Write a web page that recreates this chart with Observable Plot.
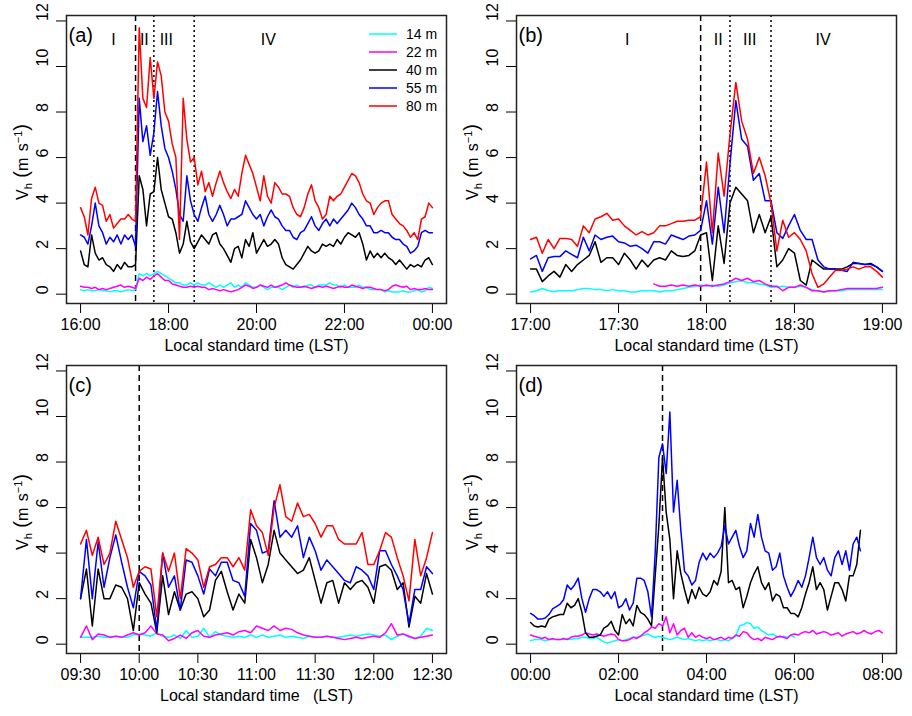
<!DOCTYPE html>
<html>
<head>
<meta charset="utf-8">
<script src="https://cdn.jsdelivr.net/npm/d3@7"></script>
<script src="https://cdn.jsdelivr.net/npm/@observablehq/plot@0.6"></script>
<style>
  body { margin: 0; background: #fff; font-family: "Liberation Sans", Arial, sans-serif; }
  #fig { position: relative; width: 912px; height: 716px; }
  .panel { position: absolute; }
</style>
</head>
<body>
<div id="fig"></div>
<script>
const HEIGHTS = ["14 m", "22 m", "40 m", "55 m", "80 m"];
const COLORS = ["#00ffff", "#ff00ff", "#000000", "#0000ff", "#ff0000"];
const Y_TICKS = [0, 2, 4, 6, 8, 10, 12];

// (a) 16:00 - 00:00, one value every 5 min
const aRed = [3.8,3.4,2.6,4.2,4.7,4.0,3.9,3.2,3.5,2.9,3.1,3.3,3.3,3.5,3.3,3.2,
  11.7,8.6,8.2,10.4,8.6,10.2,9.6,8.0,7.6,6.6,6.0,2.4,8.6,6.8,5.8,6.0,
  4.8,5.4,4.5,4.9,4.3,4.9,5.4,4.9,4.5,4.2,4.6,4.3,5.3,6.1,5.7,5.3,
  4.7,4.1,5.2,4.3,4.0,4.9,4.7,4.4,4.4,4.3,3.8,3.5,3.4,3.8,4.4,4.8,
  4.1,3.8,3.3,3.5,4.3,4.1,4.3,4.4,4.7,5.0,5.3,5.2,4.9,4.4,4.1,4.0,
  3.5,3.8,4.0,4.1,4.1,3.5,3.3,3.1,3.0,2.8,2.5,2.7,2.4,3.3,3.4,4.0,3.8];
const aBlue = [2.6,2.5,2.2,3.0,4.0,3.0,2.7,2.2,2.5,2.3,2.6,2.2,2.6,2.4,2.6,2.1,
  8.6,6.7,7.4,6.1,7.1,8.9,7.4,6.4,6.0,5.4,4.6,3.5,3.2,5.2,4.1,3.5,
  3.2,3.8,4.3,3.5,3.2,3.5,3.9,3.5,3.0,3.3,3.3,3.4,3.5,4.1,3.8,3.5,
  3.3,3.5,3.0,3.4,3.7,3.4,3.3,3.0,2.8,2.8,2.5,2.4,2.7,2.8,3.1,3.4,
  3.0,2.8,3.1,3.3,3.0,3.3,3.1,3.3,3.5,3.7,4.0,3.8,3.5,3.3,3.0,3.0,
  2.7,2.7,2.8,2.7,2.7,2.5,2.4,2.4,2.2,2.1,1.8,1.9,2.1,2.7,2.8,2.7,2.7];
const aBlack = [1.9,1.3,1.2,2.6,1.8,1.5,1.6,1.3,1.2,1.0,1.3,1.1,1.4,1.2,1.2,1.3,
  5.2,4.6,3.0,4.4,4.5,6.0,4.6,4.0,3.4,3.3,2.7,1.8,2.2,3.2,2.3,2.0,
  2.3,2.6,2.4,2.2,2.6,2.7,2.2,2.0,1.7,1.4,2.0,2.1,1.6,2.4,2.1,2.7,
  1.8,2.1,2.4,2.1,2.2,2.4,2.2,1.6,1.3,1.2,1.1,1.3,1.5,1.8,2.1,1.9,
  1.8,1.9,2.2,2.1,2.2,2.1,2.4,2.2,2.5,2.7,2.6,2.5,2.7,2.2,1.5,1.9,
  1.6,1.8,1.6,1.8,1.6,1.5,1.3,1.5,1.3,1.1,1.3,1.2,1.3,1.2,1.5,1.6,1.3];
const aCyan = [0.2,0.15,0.2,0.15,0.15,0.2,0.15,0.15,0.1,0.15,0.15,0.1,0.15,0.2,0.15,0.2,
  0.9,0.8,0.9,0.8,0.9,1.0,0.9,0.8,0.7,0.6,0.5,0.5,0.4,0.4,0.5,0.4,
  0.5,0.4,0.4,0.5,0.4,0.3,0.4,0.3,0.4,0.5,0.3,0.4,0.3,0.5,0.4,0.3,
  0.3,0.4,0.3,0.2,0.3,0.3,0.3,0.2,0.3,0.4,0.3,0.4,0.3,0.3,0.4,0.4,
  0.3,0.4,0.4,0.4,0.5,0.4,0.4,0.3,0.4,0.3,0.3,0.3,0.4,0.3,0.3,0.2,
  0.2,0.2,0.2,0.1,0.15,0.1,0.1,0.1,0.15,0.1,0.1,0.15,0.2,0.1,0.15,0.3,0.25];
const aMagenta = [0.35,0.3,0.3,0.25,0.3,0.2,0.25,0.2,0.25,0.3,0.35,0.4,0.3,0.35,0.3,0.25,
  0.7,0.6,0.75,0.65,0.8,0.9,0.75,0.6,0.6,0.45,0.4,0.35,0.3,0.3,0.35,0.3,
  0.35,0.3,0.3,0.2,0.25,0.2,0.15,0.2,0.15,0.1,0.15,0.2,0.3,0.4,0.35,0.25,
  0.3,0.4,0.35,0.3,0.4,0.3,0.35,0.4,0.5,0.4,0.35,0.3,0.3,0.35,0.3,0.25,
  0.3,0.35,0.3,0.35,0.3,0.25,0.3,0.35,0.3,0.3,0.4,0.35,0.3,0.25,0.3,0.3,
  0.25,0.2,0.2,0.15,0.2,0.35,0.4,0.35,0.3,0.35,0.2,0.25,0.2,0.2,0.25,0.2,0.2];

// (b) 17:00 - 19:00, one value every 2 min
const bRed = [2.4,2.5,1.8,2.4,2.0,2.45,2.45,2.4,2.1,3.0,2.7,3.3,3.4,3.55,3.25,3.3,
  3.0,2.8,2.6,2.75,2.6,2.7,3.0,3.0,3.1,3.2,3.2,3.25,3.25,3.4,5.8,2.7,
  6.2,4.3,7.0,9.3,7.6,6.8,5.3,6.0,5.2,4.0,1.9,3.25,2.5,2.7,2.4,1.9,
  0.9,0.3,0.45,0.75,1.05,1.05,1.1,1.2,1.1,1.2,1.2,1.0,0.75];
const bBlue = [1.55,1.7,1.0,1.6,1.65,1.65,1.9,1.75,1.6,2.5,1.9,2.6,2.4,2.5,2.55,2.3,
  2.25,2.1,2.15,2.0,1.8,2.3,2.3,2.2,2.6,2.5,2.4,2.55,2.6,2.8,4.1,2.2,
  4.7,2.7,5.7,8.5,6.8,6.5,5.0,5.3,4.1,4.1,2.7,2.45,3.0,3.5,2.8,2.4,
  2.4,1.5,1.2,1.1,1.1,1.05,1.0,1.4,1.35,1.3,1.3,1.2,1.0];
const bBlack = [1.1,1.1,0.55,0.8,1.0,0.75,1.3,1.0,1.3,1.5,1.7,2.3,1.4,1.6,1.6,1.3,
  1.8,1.5,1.1,1.5,1.2,1.5,1.6,1.5,1.9,1.7,1.65,1.7,1.9,2.6,2.7,0.6,
  3.0,1.35,4.0,4.7,4.4,4.1,2.7,3.5,2.7,3.4,1.2,1.5,2.0,1.8,0.6,0.4,
  1.5,1.3,1.1,1.1,1.1,1.1,1.2,1.35,1.35,1.3,1.35,1.2,1.0];
const bCyan = [0.1,0.15,0.25,0.15,0.12,0.15,0.15,0.15,0.2,0.25,0.25,0.2,0.2,0.15,0.2,0.15,
  0.15,0.1,0.1,0.15,0.15,0.15,0.1,0.15,0.15,0.2,0.25,
  0.3,0.35,0.4,0.35,0.4,0.35,0.4,0.5,0.55,0.6,0.5,0.5,0.45,0.4,0.3,0.3,0.35,0.3,0.3,0.35,
  0.3,0.2,0.15,0.1,0.15,0.15,0.15,0.2,0.2,0.2,0.2,0.2,0.2,0.2];
const bMagenta = [null,null,null,null,null,null,null,null,null,null,null,
  null,null,null,null,null,null,null,null,null,null,
  0.45,0.35,0.35,0.4,0.35,0.4,0.35,0.4,0.35,0.4,0.35,0.4,0.45,0.55,0.7,0.6,0.7,0.55,0.6,0.45,
  0.35,0.35,0.15,0.3,0.3,0.4,0.3,0.15,0.15,0.1,0.15,0.15,0.2,0.25,0.25,0.25,0.25,0.25,0.25,0.3];

// (c) 09:30 - 12:30, one value every 3 min
const cRed = [4.4,5.0,3.9,4.7,3.5,4.0,5.4,4.6,3.8,2.5,3.2,3.4,3.3,1.2,4.0,3.2,4.0,2.0,4.2,4.0,
  3.7,2.5,3.4,3.5,3.8,3.8,3.4,3.8,3.25,5.9,5.2,4.9,3.9,6.0,7.0,5.6,5.4,6.2,5.6,5.7,
  5.3,4.7,5.2,5.2,4.6,4.4,4.4,4.4,4.9,3.5,3.5,4.1,4.9,4.7,3.8,3.0,1.9,4.6,3.0,3.8,4.9];
const cBlue = [2.0,4.6,2.0,4.5,2.5,3.8,4.8,3.6,2.5,1.6,3.2,3.0,2.6,0.6,4.0,2.5,3.0,1.5,3.7,3.6,
  3.0,2.2,3.3,3.0,3.6,3.6,2.8,2.7,2.1,5.3,5.0,4.0,4.1,6.3,4.7,5.0,4.7,5.2,3.8,4.7,
  4.1,3.25,3.7,3.4,3.1,2.8,2.7,3.4,3.25,3.0,2.4,4.1,4.1,3.5,3.0,2.4,0.9,2.4,2.4,3.4,3.1];
const cBlack = [2.0,3.3,0.8,3.3,2.0,2.0,2.6,2.5,2.0,0.6,2.7,2.2,1.8,0.5,3.0,1.3,2.3,1.5,2.2,2.3,
  2.0,1.2,1.5,2.8,3.2,2.3,1.5,2.2,1.8,4.6,3.8,2.7,3.5,5.0,4.0,3.7,3.4,3.1,3.25,3.8,
  2.8,1.8,2.7,2.8,1.8,2.7,2.4,2.7,2.8,2.5,1.8,3.4,3.5,3.25,2.4,2.7,0.75,2.1,1.8,3.1,2.2];
const cCyan = [0.3,0.3,0.3,0.35,0.3,0.3,0.35,0.3,0.3,0.4,0.45,0.4,0.35,0.5,0.35,0.3,0.4,0.25,0.6,0.3,
  0.35,0.7,0.3,0.55,0.4,0.35,0.3,0.35,0.3,0.4,0.3,0.4,0.3,0.35,0.4,0.3,0.35,0.3,0.25,0.35,
  0.3,0.3,0.35,0.3,0.3,0.35,0.4,0.35,0.4,0.45,0.4,0.35,0.4,0.2,0.35,0.45,0.3,0.25,0.35,0.7,0.6];
const cMagenta = [0.3,0.8,0.2,0.45,0.4,0.3,0.35,0.3,0.4,0.5,0.4,0.5,0.8,0.45,0.4,0.15,0.25,0.4,0.25,0.5,
  0.6,0.35,0.3,0.4,0.45,0.5,0.4,0.55,0.6,0.5,0.8,0.7,0.6,0.8,0.6,0.7,0.65,0.5,0.4,0.35,
  0.3,0.3,0.35,0.3,0.25,0.2,0.25,0.3,0.25,0.3,0.35,0.3,0.5,0.9,0.4,0.45,0.35,0.25,0.3,0.35,0.4];

// (d) 00:00 - 08:00, one value every 5 min (no 80 m data)
const dBlue = [1.35,1.25,1.1,1.1,1.15,1.3,1.55,1.65,1.75,1.95,2.6,2.4,2.6,2.9,2.0,1.4,
  2.0,2.4,2.4,2.3,2.1,2.3,2.0,2.3,1.6,1.7,2.0,1.5,1.8,2.9,2.9,2.8,
  2.3,1.2,4.0,8.2,8.8,7.5,10.2,5.8,7.2,5.0,3.2,3.0,2.6,2.8,3.6,4.0,
  3.7,4.0,3.8,4.0,4.3,5.2,4.4,4.7,5.0,4.3,3.8,4.1,5.3,4.7,5.7,4.7,
  4.1,4.0,3.25,3.4,4.0,3.0,2.5,2.1,2.4,2.8,2.5,3.0,3.8,4.7,3.8,3.5,
  3.8,3.25,3.0,3.8,4.1,3.5,4.1,3.25,4.4,4.7,4.1];
const dBlack = [0.95,0.8,0.75,0.8,0.75,1.1,1.2,1.25,1.3,1.3,1.8,1.6,1.7,2.0,1.4,0.5,
  0.3,0.3,0.35,0.4,0.7,0.8,1.0,0.6,0.4,1.3,0.9,1.1,0.8,1.7,1.4,1.3,
  1.1,0.8,3.0,5.2,8.2,5.8,4.6,2.0,4.1,3.1,2.4,1.8,2.4,2.0,2.5,2.2,
  2.1,2.3,2.8,2.6,3.2,6.0,2.7,2.8,2.4,2.5,1.6,2.1,2.7,3.1,3.4,2.7,
  2.4,2.7,1.9,2.2,2.1,1.6,1.6,1.35,1.35,1.2,1.6,2.2,2.7,3.4,2.4,2.7,
  2.4,1.5,2.1,2.7,2.7,2.4,1.9,3.0,3.0,3.5,5.0];
const dCyan = [0.15,0.2,0.2,0.2,0.15,0.2,0.2,0.2,0.2,0.2,0.25,0.2,0.25,0.25,0.3,0.3,0.25,0.25,0.3,0.2,
  0.1,0.05,0.1,0.15,0.2,0.15,0.2,0.25,0.3,0.3,0.35,0.4,0.45,0.35,0.3,0.35,
  0.3,0.25,0.2,0.25,0.3,0.25,0.2,0.25,0.2,0.15,0.2,0.15,0.2,0.15,0.2,0.2,0.15,0.2,0.15,0.25,
  0.35,0.8,0.85,0.95,0.9,0.7,0.75,0.6,0.5,0.4,0.45,0.35,0.3,0.35,0.3,0.4,0.3];
const dMagenta = [0.4,0.35,0.3,0.25,0.3,0.2,0.25,0.2,0.2,0.25,0.2,0.3,0.35,0.35,0.4,0.5,
  0.45,0.4,0.45,0.4,0.35,0.4,0.45,0.4,0.2,0.15,0.15,0.2,0.3,0.25,0.35,0.5,
  0.6,0.75,0.7,0.9,0.8,1.2,0.5,0.9,0.4,0.6,0.7,0.3,0.5,0.3,0.4,0.3,
  0.25,0.3,0.2,0.25,0.3,0.2,0.3,0.25,0.4,0.35,0.55,0.5,0.3,0.2,0.25,0.15,
  0.3,0.25,0.2,0.3,0.35,0.3,0.25,0.4,0.45,0.4,0.5,0.55,0.5,0.6,0.45,0.5,
  0.55,0.5,0.4,0.45,0.5,0.35,0.45,0.5,0.55,0.45,0.5,0.6,0.5,0.45,0.55,0.6,0.5];

// phase labels and front lines, in hours
const aPhases = [{t: 16.75, label: "I"}, {t: 17.45, label: "II"}, {t: 17.95, label: "III"}, {t: 20.27, label: "IV"}];
const bPhases = [{t: 17.55, label: "I"}, {t: 18.067, label: "II"}, {t: 18.246, label: "III"}, {t: 18.663, label: "IV"}];

const panels = [
  {tag: "(a)", start: 16, end: 24, step: 5, ticks: [16, 18, 20, 22, 24],
   series: [aCyan, aMagenta, aBlack, aBlue, aRed],
   dashed: [17.25], dotted: [17 + 40 / 60, 18 + 35 / 60], phases: aPhases, legend: true,
   xTitle: "Local standard time (LST)", left: 0, top: 0},
  {tag: "(b)", start: 17, end: 19, step: 2, ticks: [17, 17.5, 18, 18.5, 19],
   series: [bCyan, bMagenta, bBlack, bBlue, bRed],
   dashed: [17 + 58 / 60], dotted: [18 + 8 / 60, 18 + 22 / 60], phases: bPhases,
   xTitle: "Local standard time (LST)", left: 450, top: 0},
  {tag: "(c)", start: 9.5, end: 12.5, step: 3, ticks: [9.5, 10, 10.5, 11, 11.5, 12, 12.5],
   series: [cCyan, cMagenta, cBlack, cBlue, cRed],
   dashed: [10], dotted: [], phases: [],
   xTitle: "Local standard time\u00a0\u00a0\u00a0(LST)", left: 0, top: 350},
  {tag: "(d)", start: 0, end: 8, step: 5, ticks: [0, 2, 4, 6, 8],
   series: [dCyan, dMagenta, dBlack, dBlue, null],
   dashed: [3], dotted: [], phases: [],
   xTitle: "Local standard time (LST)", left: 450, top: 350}
];

function toRows(start, stepMin, values) {
  return values.map((v, i) => ({t: start + i * stepMin / 60, v}));
}

function hhmm(h) {
  let hh = Math.floor(h + 1e-9);
  let mm = Math.round((h - hh) * 60);
  return String(hh % 24).padStart(2, "0") + ":" + String(mm).padStart(2, "0");
}

function drawPanel(p) {
  let span = p.end - p.start;
  let lines = [];
  p.series.forEach((vals, k) => {
    if (vals) lines.push(Plot.line(toRows(p.start, p.step, vals), {x: "t", y: "v", stroke: COLORS[k], strokeWidth: 1.5}));
  });

  let chart = Plot.plot({
    width: 456,
    height: 366,
    marginLeft: 66,
    marginRight: 10,
    marginTop: 15,
    marginBottom: 63,
    style: {fontFamily: "Liberation Sans, Arial, sans-serif", fontSize: "16px", color: "#000", background: "transparent", overflow: "visible"},
    x: {domain: [p.start - 0.04 * span, p.end + 0.04 * span]},
    y: {domain: [-0.41, 12.24]},
    marks: [
      Plot.ruleX(p.dashed, {strokeDasharray: "6,4", strokeWidth: 1.5}),
      Plot.ruleX(p.dotted, {strokeDasharray: "2,3", strokeWidth: 1.5}),
      ...lines,
      Plot.axisX({ticks: p.ticks, tickFormat: hhmm, tickSize: 10, tickPadding: 5, fontSize: 16, label: null}),
      Plot.axisY({ticks: Y_TICKS, tickSize: 10, tickFormat: () => "", label: null}),
      Plot.text(Y_TICKS, {y: d => d, text: d => String(d), frameAnchor: "left", dx: -24, rotate: -90, fontSize: 16}),
      Plot.text([p.tag], {frameAnchor: "top-left", dx: 2, dy: 12, textAnchor: "start", lineAnchor: "top", fontSize: 20}),
      Plot.text(p.phases, {x: "t", text: "label", frameAnchor: "top", dy: 18, fontSize: 16}),
      Plot.text([p.xTitle], {frameAnchor: "bottom", dy: 42, lineAnchor: "middle", fontSize: 16}),
      Plot.frame({stroke: "#222", strokeWidth: 1.5})
    ]
  });

  let svg = d3.select(chart);

  // y axis title with subscript, superscript and tall brackets
  let yt = svg.append("text")
    .attr("transform", "translate(28,162) rotate(-90)")
    .attr("text-anchor", "middle")
    .attr("font-size", 16)
    .attr("fill", "#000");
  yt.append("tspan").text("V");
  yt.append("tspan").attr("font-size", 11).attr("dy", 4).text("h");
  yt.append("tspan").attr("dy", -4).attr("font-size", 20).text(" (");
  yt.append("tspan").text("m\u2009\u2009s");
  yt.append("tspan").attr("font-size", 11).attr("dy", -6).text("\u22121");
  yt.append("tspan").attr("dy", 6).attr("font-size", 20).text(")");

  if (p.legend) {
    let lg = svg.append("g");
    HEIGHTS.forEach((h, k) => {
      let y = 34 + 18 * k;
      lg.append("line").attr("x1", 369).attr("x2", 397).attr("y1", y).attr("y2", y)
        .attr("stroke", COLORS[k]).attr("stroke-width", 1.5);
      lg.append("text").attr("x", 406).attr("y", y).attr("dy", "0.35em")
        .attr("text-anchor", "start")
        .attr("font-size", 14).attr("fill", "#000").text(h);
    });
  }

  chart.classList.add("panel");
  chart.style.left = p.left + "px";
  chart.style.top = p.top + "px";
  document.getElementById("fig").append(chart);
}

panels.forEach(drawPanel);
</script>
</body>
</html>
